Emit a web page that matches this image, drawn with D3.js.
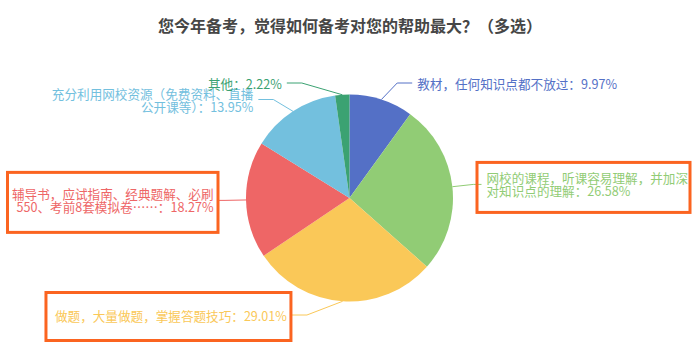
<!DOCTYPE html>
<html>
<head>
<meta charset="utf-8">
<script src="https://cdn.jsdelivr.net/npm/d3@7"></script>
<style>
  html, body { margin: 0; padding: 0; background: #fff; }
  svg { display: block; font-family: "Noto Sans CJK SC", "Noto Sans", sans-serif; }
</style>
</head>
<body>
<svg id="chart" width="700" height="350"></svg>
<script>
// Survey: which preparation helped most (multiple choice), share in percent
const title = "您今年备考，觉得如何备考对您的帮助最大？（多选）";
const categories = [
  "教材，任何知识点都不放过",
  "网校的课程，听课容易理解，并加深对知识点的理解",
  "做题，大量做题，掌握答题技巧",
  "辅导书，应试指南、经典题解、必刷550、考前8套模拟卷……",
  "充分利用网校资源（免费资料、直播公开课等）",
  "其他"
];
const values = [9.97, 26.58, 29.01, 18.27, 13.95, 2.22];
const colors = ["#5470c6", "#91cc75", "#fac858", "#ee6666", "#73c0de", "#3ba272"];

// Categories whose labels get a hand-drawn style highlight frame
// (pad: top, right, bottom, left around the label text block)
const highlights = [
  { index: 1, pad: [9, 2, 15, 9.5] },
  { index: 3, pad: [15, 4.5, 19, 4.5] },
  { index: 2, pad: [16, 4, 19, 9] }
];

const W = 700, H = 350;
const cx = 349.5, cy = 198, R = 103.5, R2 = 124.5;
const fontSize = 12.6, lineH = 13, gap = 5, len2Max = 15, edgeMargin = 12;
const maxDyTop = 115, maxDyBottom = 117;
const charsPerLine = 16;

const svg = d3.select("#chart");

svg.append("text")
  .attr("x", W / 2).attr("y", 31.5)
  .attr("text-anchor", "middle")
  .attr("font-size", 16).attr("font-weight", "bold")
  .attr("fill", "#464646")
  .text(title);

const data = values.map((v, i) => ({ name: categories[i], value: v, color: colors[i] }));
const arcs = d3.pie().sort(null).value(d => d.value)(data);
const arc = d3.arc().innerRadius(0).outerRadius(R);

svg.append("g")
  .attr("transform", `translate(${cx},${cy})`)
  .selectAll("path")
  .data(arcs)
  .join("path")
  .attr("d", arc)
  .attr("fill", d => d.data.color);

// text width measurement
const measurer = svg.append("text").attr("font-size", fontSize).attr("visibility", "hidden");
function textWidth(s) { measurer.text(s); return measurer.node().getComputedTextLength(); }

function labelLines(d) {
  const chars = Array.from(d.name);
  const lines = [];
  for (let k = 0; k < chars.length; k += charsPerLine) lines.push(chars.slice(k, k + charsPerLine).join(""));
  lines[lines.length - 1] += "：" + d.value.toFixed(2) + "%";
  return lines;
}

const labels = arcs.map((a, i) => {
  const mid = (a.startAngle + a.endAngle) / 2;
  const side = Math.sin(mid) >= 0 ? 1 : -1;
  const lines = labelLines(a.data);
  return {
    a, i, mid, side, lines,
    y: cy - R2 * Math.cos(mid),
    h: lines.length * lineH,
    w: d3.max(lines, textWidth)
  };
});
measurer.remove();

// keep labels in a vertical band, then resolve overlaps per side
labels.forEach(l => { l.y = Math.max(cy - maxDyTop, Math.min(cy + maxDyBottom, l.y)); });
[-1, 1].forEach(s => {
  const list = labels.filter(l => l.side === s).sort((p, q) => p.y - q.y);
  for (let k = 1; k < list.length; k++) {
    const prev = list[k - 1], cur = list[k];
    const minY = prev.y + prev.h / 2 + cur.h / 2 - 3;
    if (cur.y < minY) cur.y = minY;
  }
});

labels.forEach(l => {
  const dy = l.y - cy;
  l.kx = cx + l.side * Math.sqrt(Math.max(0, R2 * R2 - dy * dy));
  const avail = l.side > 0 ? (W - edgeMargin) - (l.kx + gap) : (l.kx - gap) - edgeMargin;
  const len2 = Math.max(0, Math.min(len2Max, avail - l.w));
  l.ex = l.kx + l.side * len2;
  l.tx = l.ex + l.side * gap;
  l.sx = cx + R * Math.sin(l.mid);
  l.sy = cy - R * Math.cos(l.mid);
});

const lg = svg.append("g");
lg.selectAll("polyline")
  .data(labels)
  .join("polyline")
  .attr("points", l => [[l.sx, l.sy], [l.kx, l.y], [l.ex, l.y]].map(p => p.join(",")).join(" "))
  .attr("fill", "none")
  .attr("stroke", l => l.a.data.color)
  .attr("stroke-width", 1);

const tg = svg.append("g").attr("font-size", fontSize);
labels.forEach(l => {
  const t = tg.append("text")
    .attr("text-anchor", l.side > 0 ? "start" : "end")
    .attr("fill", l.a.data.color);
  const n = l.lines.length;
  l.lines.forEach((s, k) => {
    t.append("tspan")
      .attr("x", l.tx)
      .attr("y", l.y + (k - (n - 1) / 2) * lineH)
      .attr("dominant-baseline", "central")
      .text(s);
  });
});

// highlight frames around selected labels
const fg = svg.append("g");
highlights.forEach(hl => {
  const l = labels[hl.index];
  const x0 = l.side > 0 ? l.tx : l.tx - l.w;
  const y0 = l.y - l.h / 2;
  const [pt, pr, pb, pl] = hl.pad;
  fg.append("rect")
    .attr("x", x0 - pl).attr("y", y0 - pt)
    .attr("width", l.w + pl + pr).attr("height", l.h + pt + pb)
    .attr("fill", "none")
    .attr("stroke", "#fb6420")
    .attr("stroke-width", 3);
});
</script>
</body>
</html>
